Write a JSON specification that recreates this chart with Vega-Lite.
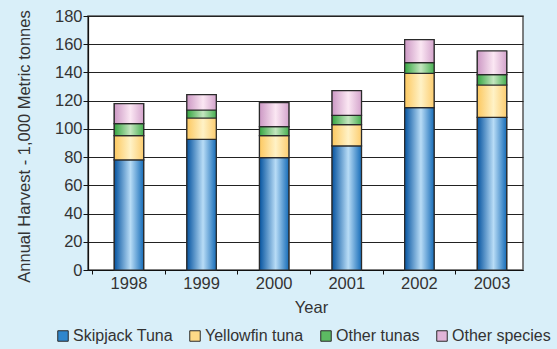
{
  "$schema": "https://vega.github.io/schema/vega-lite/v6.json",
  "width": 435,
  "height": 254,
  "autosize": {"type": "none"},
  "padding": {"left": 88, "top": 16, "right": 34, "bottom": 79},
  "background": "#d9eff9",
  "config": {
    "font": "Liberation Sans",
    "view": {"fill": "white", "stroke": "#555", "strokeWidth": 1.5}
  },
  "data": {
    "values": [
      {"year": "1998", "series": "Skipjack Tuna", "order": 1, "value": 78},
      {"year": "1998", "series": "Yellowfin tuna", "order": 2, "value": 17.2},
      {"year": "1998", "series": "Other tunas", "order": 3, "value": 8.5},
      {"year": "1998", "series": "Other species", "order": 4, "value": 14.2},
      {"year": "1999", "series": "Skipjack Tuna", "order": 1, "value": 92.6},
      {"year": "1999", "series": "Yellowfin tuna", "order": 2, "value": 15.1},
      {"year": "1999", "series": "Other tunas", "order": 3, "value": 5.7},
      {"year": "1999", "series": "Other species", "order": 4, "value": 10.9},
      {"year": "2000", "series": "Skipjack Tuna", "order": 1, "value": 79.7},
      {"year": "2000", "series": "Yellowfin tuna", "order": 2, "value": 15.5},
      {"year": "2000", "series": "Other tunas", "order": 3, "value": 6.4},
      {"year": "2000", "series": "Other species", "order": 4, "value": 17},
      {"year": "2001", "series": "Skipjack Tuna", "order": 1, "value": 87.9},
      {"year": "2001", "series": "Yellowfin tuna", "order": 2, "value": 15.1},
      {"year": "2001", "series": "Other tunas", "order": 3, "value": 6.6},
      {"year": "2001", "series": "Other species", "order": 4, "value": 17.5},
      {"year": "2002", "series": "Skipjack Tuna", "order": 1, "value": 115.1},
      {"year": "2002", "series": "Yellowfin tuna", "order": 2, "value": 24.3},
      {"year": "2002", "series": "Other tunas", "order": 3, "value": 7.6},
      {"year": "2002", "series": "Other species", "order": 4, "value": 16.3},
      {"year": "2003", "series": "Skipjack Tuna", "order": 1, "value": 108.2},
      {"year": "2003", "series": "Yellowfin tuna", "order": 2, "value": 22.9},
      {"year": "2003", "series": "Other tunas", "order": 3, "value": 7.4},
      {"year": "2003", "series": "Other species", "order": 4, "value": 16.7}
    ]
  },
  "transform": [
    {"stack": "value", "groupby": ["year"], "sort": [{"field": "order", "order": "ascending"}], "as": ["v0", "v1"]}
  ],
  "encoding": {
    "x": {
      "field": "year", "type": "ordinal",
      "scale": {"paddingInner": 0.595, "paddingOuter": 0.293, "align": 0.617},
      "axis": {"title": "Year", "labelAngle": 0, "tickSize": 4, "bandPosition": -0.735, "labelPadding": 1, "titlePadding": 8, "titleX": 223,
        "labelFont": "Liberation Sans", "titleFont": "Liberation Sans", "labelFontSize": 16.5, "titleFontSize": 16.5, "titleFontWeight": "normal", "labelColor": "#333", "titleColor": "#333", "domainColor": "#111", "tickColor": "#111", "domainWidth": 1.2}
    },
    "y": {
      "field": "v0", "type": "quantitative",
      "scale": {"domain": [0, 180]},
      "axis": {"title": "Annual Harvest - 1,000 Metric tonnes", "values": [0, 20, 40, 60, 80, 100, 120, 140, 160, 180], "grid": true, "gridColor": "#222", "gridOpacity": 1, "gridWidth": 1.2, "tickSize": 5, "labelPadding": 1, "titleX": -64, "titleY": 130, "titleBaseline": "middle",
        "labelFont": "Liberation Sans", "titleFont": "Liberation Sans", "labelFontSize": 16.5, "titleFontSize": 16.5, "titleFontWeight": "normal", "labelColor": "#333", "titleColor": "#333", "domainColor": "#111", "tickColor": "#111", "domainWidth": 1.2}
    },
    "y2": {"field": "v1"}
  },
  "layer": [
    {
      "mark": {"type": "bar", "stroke": "#2a2a2a", "strokeWidth": 1.2},
      "encoding": {
        "color": {
          "field": "series", "type": "nominal",
          "sort": ["Skipjack Tuna", "Yellowfin tuna", "Other tunas", "Other species"],
          "scale": {"domain": ["Skipjack Tuna", "Yellowfin tuna", "Other tunas", "Other species"], "range": ["#2f86cc", "#fdd987", "#5cba62", "#e0b4d8"]},
          "legend": {"title": null, "orient": "none", "legendX": -33, "legendY": 312, "direction": "horizontal", "columns": 4, "symbolType": "square", "symbolSize": 110, "symbolStrokeColor": "#2a2a2a", "symbolStrokeWidth": 1, "labelOffset": 2, "columnPadding": 14,
            "labelFont": "Liberation Sans", "labelFontSize": 16, "labelColor": "#333"}
        }
      }
    },
    {
      "mark": {"type": "bar", "stroke": "#2a2a2a", "strokeWidth": 1.2},
      "encoding": {
        "fill": {
          "condition": [
            {"test": "datum.series === 'Skipjack Tuna'", "value": {"gradient": "linear", "x1": 0, "y1": 0, "x2": 1, "y2": 0, "stops": [{"offset": 0, "color": "#0654a0"}, {"offset": 0.55, "color": "#b8dcf6"}, {"offset": 1, "color": "#166cb8"}]}},
            {"test": "datum.series === 'Yellowfin tuna'", "value": {"gradient": "linear", "x1": 0, "y1": 0, "x2": 1, "y2": 0, "stops": [{"offset": 0, "color": "#fcc860"}, {"offset": 0.55, "color": "#fff2c6"}, {"offset": 1, "color": "#fccd70"}]}},
            {"test": "datum.series === 'Other tunas'", "value": {"gradient": "linear", "x1": 0, "y1": 0, "x2": 1, "y2": 0, "stops": [{"offset": 0, "color": "#36a542"}, {"offset": 0.55, "color": "#c4e6bf"}, {"offset": 1, "color": "#46ae50"}]}}
          ],
          "value": {"gradient": "linear", "x1": 0, "y1": 0, "x2": 1, "y2": 0, "stops": [{"offset": 0, "color": "#cc98c4"}, {"offset": 0.55, "color": "#fbe7f3"}, {"offset": 1, "color": "#d4a4cc"}]}
        }
      }
    }
  ]
}
